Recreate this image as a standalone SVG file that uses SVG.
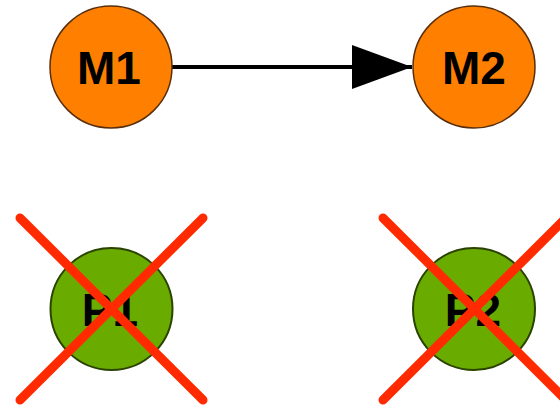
<svg xmlns="http://www.w3.org/2000/svg" width="560" height="406" viewBox="0 0 560 406">
<style>
.m{fill:#FF8000;stroke:#5A2E0A;stroke-width:1.5}
.p{fill:#6AAB00;stroke:#2A4300;stroke-width:2}
.t{font-family:"Liberation Sans",Arial,sans-serif;font-weight:bold;font-size:46px;text-anchor:middle;fill:#000}
.x{stroke:#FF2A00;stroke-width:9;stroke-linecap:round;fill:none}
</style>
<defs>
<marker id="ah" markerUnits="userSpaceOnUse" markerWidth="60" markerHeight="46" refX="60" refY="23" orient="auto">
<path d="M0,1 L60,23 L0,45 Z" fill="#000"/>
</marker>
</defs>
<g id="connectors">
<line x1="172" y1="67" x2="412" y2="67" stroke="#000" stroke-width="4" marker-end="url(#ah)"/>
</g>
<g id="M1">
<circle class="m" cx="111" cy="67" r="61"/>
<text class="t" x="109" y="84">M1</text>
</g>
<g id="M2">
<circle class="m" cx="474" cy="67" r="61"/>
<text class="t" x="474" y="84">M2</text>
</g>
<g id="P1">
<circle class="p" cx="111.5" cy="309" r="61"/>
<text class="t" x="110" y="326">P1</text>
<line class="x" x1="20" y1="218" x2="203" y2="400"/>
<line class="x" x1="203" y1="218" x2="20" y2="400"/>
</g>
<g id="P2">
<circle class="p" cx="474" cy="309" r="61"/>
<text class="t" x="473" y="326">P2</text>
<line class="x" x1="383" y1="218" x2="566" y2="400"/>
<line class="x" x1="566" y1="218" x2="383" y2="400"/>
</g>
</svg>
